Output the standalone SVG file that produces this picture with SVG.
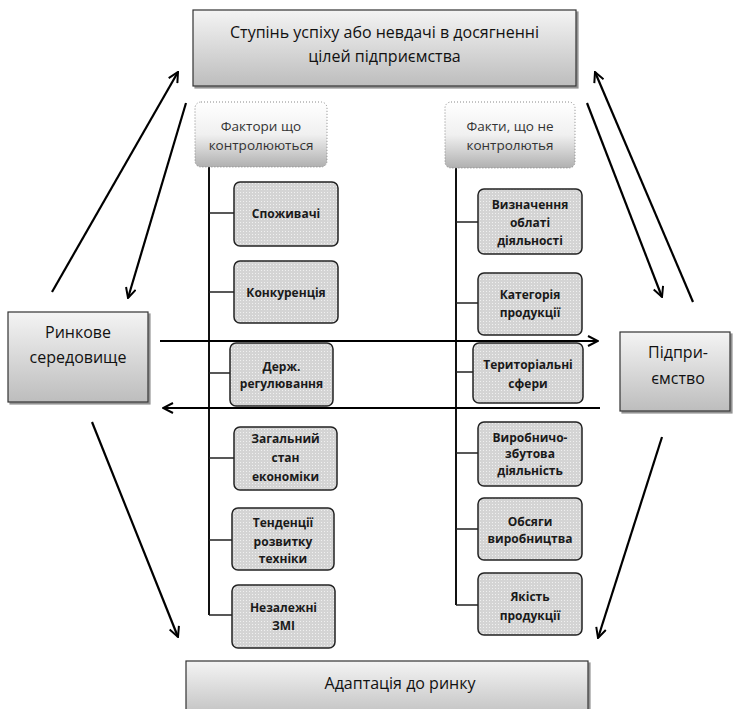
<svg xmlns="http://www.w3.org/2000/svg" width="733" height="709" viewBox="0 0 733 709">
<defs>
<linearGradient id="gBig" x1="0" y1="0" x2="0" y2="1">
<stop offset="0" stop-color="#f4f4f4"/><stop offset="1" stop-color="#bdbdbd"/>
</linearGradient>
<linearGradient id="gHead" x1="0" y1="0" x2="0" y2="1">
<stop offset="0" stop-color="#ffffff"/><stop offset="0.5" stop-color="#f0f0f0"/><stop offset="1" stop-color="#b0b0b0"/>
</linearGradient>
<pattern id="dots" width="3" height="3" patternUnits="userSpaceOnUse">
<rect width="3" height="3" fill="#d4d4d4"/><rect width="1" height="1" fill="#f0f0f0"/>
</pattern>
<marker id="ah" viewBox="0 0 12 12" refX="11" refY="6" markerWidth="12" markerHeight="12" markerUnits="userSpaceOnUse" orient="auto">
<path d="M1,1 L11,6 L1,11" fill="none" stroke="#000" stroke-width="2"/>
</marker>
<filter id="sh" x="-5%" y="-5%" width="115%" height="120%">
<feDropShadow dx="2" dy="2" stdDeviation="0.6" flood-color="#777" flood-opacity="0.8"/>
</filter>
</defs>
<style>
.big{fill:url(#gBig);stroke:#333;stroke-width:1.2;filter:url(#sh)}
.head{fill:url(#gHead);stroke:#888;stroke-width:1;stroke-dasharray:1 2}
.item{fill:url(#dots);stroke:#222;stroke-width:1.5}
.tb{font-family:"Open Sans","Liberation Sans",sans-serif;font-size:16px;fill:#111;text-anchor:middle}
.th{font-family:"Open Sans","Liberation Sans",sans-serif;font-size:13.5px;fill:#333;text-anchor:middle}
.ti{font-family:"Open Sans","Liberation Sans",sans-serif;font-size:12px;font-weight:bold;fill:#1a1a1a;text-anchor:middle}
.tree{stroke:#111;stroke-width:2;fill:none}
.br{stroke:#222;stroke-width:1.3;fill:none}
.arr{stroke:#000;stroke-width:2.2;fill:none;marker-end:url(#ah)}
</style>

<g id="goal">
<rect class="big" x="193" y="10" width="383" height="76"/>
<text class="tb" x="384.5" y="38">Ступінь успіху або невдачі в досягненні</text>
<text class="tb" x="384.5" y="62">цілей підприємства</text>
</g>

<g id="market">
<rect class="big" x="8" y="312" width="140" height="90"/>
<text class="tb" x="78" y="338">Ринкове</text>
<text class="tb" x="78" y="363">середовище</text>
</g>

<g id="enterprise">
<rect class="big" x="620" y="332" width="110" height="79"/>
<text class="tb" x="678" y="358">Підпри-</text>
<text class="tb" x="678" y="384">ємство</text>
</g>

<g id="adapt">
<rect class="big" x="186" y="661" width="402" height="60"/>
<text class="tb" x="400" y="689">Адаптація до ринку</text>
</g>

<g id="tree-lines">
<path class="tree" d="M209,167 V615"/>
<path class="br" d="M209,213 H234 M209,292 H234 M209,373 H230 M209,458 H234 M209,540 H232 M209,615 H232"/>
<path class="tree" d="M456,168 V605"/>
<path class="br" d="M456,222 H478 M456,303 H478 M456,372 H473 M456,453 H478 M456,529 H478 M456,605 H478"/>
</g>

<g id="head-controlled">
<rect class="head" x="195" y="102" width="132" height="65" rx="6"/>
<text class="th" x="261" y="131">Фактори що</text>
<text class="th" x="261" y="150">контролюються</text>
</g>
<g id="head-uncontrolled">
<rect class="head" x="445" y="102" width="130" height="66" rx="6"/>
<text class="th" x="510" y="131">Факти, що не</text>
<text class="th" x="510" y="150">контролютья</text>
</g>

<g id="n-consumers">
<rect class="item" x="234" y="182" width="104" height="64" rx="6"/>
<text class="ti" x="286" y="218">Споживачі</text>
</g>
<g id="n-competition">
<rect class="item" x="234" y="261" width="104" height="62" rx="6"/>
<text class="ti" x="286" y="297">Конкуренція</text>
</g>
<g id="n-state">
<rect class="item" x="230" y="343" width="103" height="63" rx="6"/>
<text class="ti" x="281.5" y="371">Держ.</text>
<text class="ti" x="281.5" y="388">регулювання</text>
</g>
<g id="n-economy">
<rect class="item" x="234" y="427" width="103" height="63" rx="6"/>
<text class="ti" x="285.5" y="443">Загальний</text>
<text class="ti" x="285.5" y="462">стан</text>
<text class="ti" x="285.5" y="481">економіки</text>
</g>
<g id="n-tech">
<rect class="item" x="232" y="508" width="102" height="62" rx="6"/>
<text class="ti" x="283" y="527">Тенденції</text>
<text class="ti" x="283" y="546">розвитку</text>
<text class="ti" x="283" y="563">техніки</text>
</g>
<g id="n-media">
<rect class="item" x="232" y="585" width="103" height="63" rx="6"/>
<text class="ti" x="283.5" y="612">Незалежні</text>
<text class="ti" x="283.5" y="630">ЗМІ</text>
</g>

<g id="n-scope">
<rect class="item" x="478" y="189" width="104" height="65" rx="6"/>
<text class="ti" x="530" y="209">Визначення</text>
<text class="ti" x="530" y="227">облаті</text>
<text class="ti" x="530" y="245">діяльності</text>
</g>
<g id="n-category">
<rect class="item" x="478" y="273" width="104" height="62" rx="6"/>
<text class="ti" x="530" y="299">Категорія</text>
<text class="ti" x="530" y="317">продукції</text>
</g>
<g id="n-territory">
<rect class="item" x="473" y="343" width="110" height="60" rx="6"/>
<text class="ti" x="528" y="369">Територіальні</text>
<text class="ti" x="528" y="388">сфери</text>
</g>
<g id="n-production">
<rect class="item" x="478" y="422" width="104" height="64" rx="6"/>
<text class="ti" x="530" y="442">Виробничо-</text>
<text class="ti" x="530" y="458">збутова</text>
<text class="ti" x="530" y="475">діяльність</text>
</g>
<g id="n-volume">
<rect class="item" x="478" y="498" width="104" height="62" rx="6"/>
<text class="ti" x="530" y="526">Обсяги</text>
<text class="ti" x="530" y="543">виробництва</text>
</g>
<g id="n-quality">
<rect class="item" x="478" y="573" width="104" height="62" rx="6"/>
<text class="ti" x="530" y="601">Якість</text>
<text class="ti" x="530" y="620">продукції</text>
</g>

<g id="connectors">
<path class="arr" d="M160,341 H598"/>
<path class="arr" d="M600,408 H163"/>
<path class="arr" d="M52,292 L178,72"/>
<path class="arr" d="M186,103 L128,298"/>
<path class="arr" d="M693,302 L595,72"/>
<path class="arr" d="M587,103 L662,297"/>
<path class="arr" d="M92,422 L178,637"/>
<path class="arr" d="M662,437 L598,638"/>
</g>
</svg>
